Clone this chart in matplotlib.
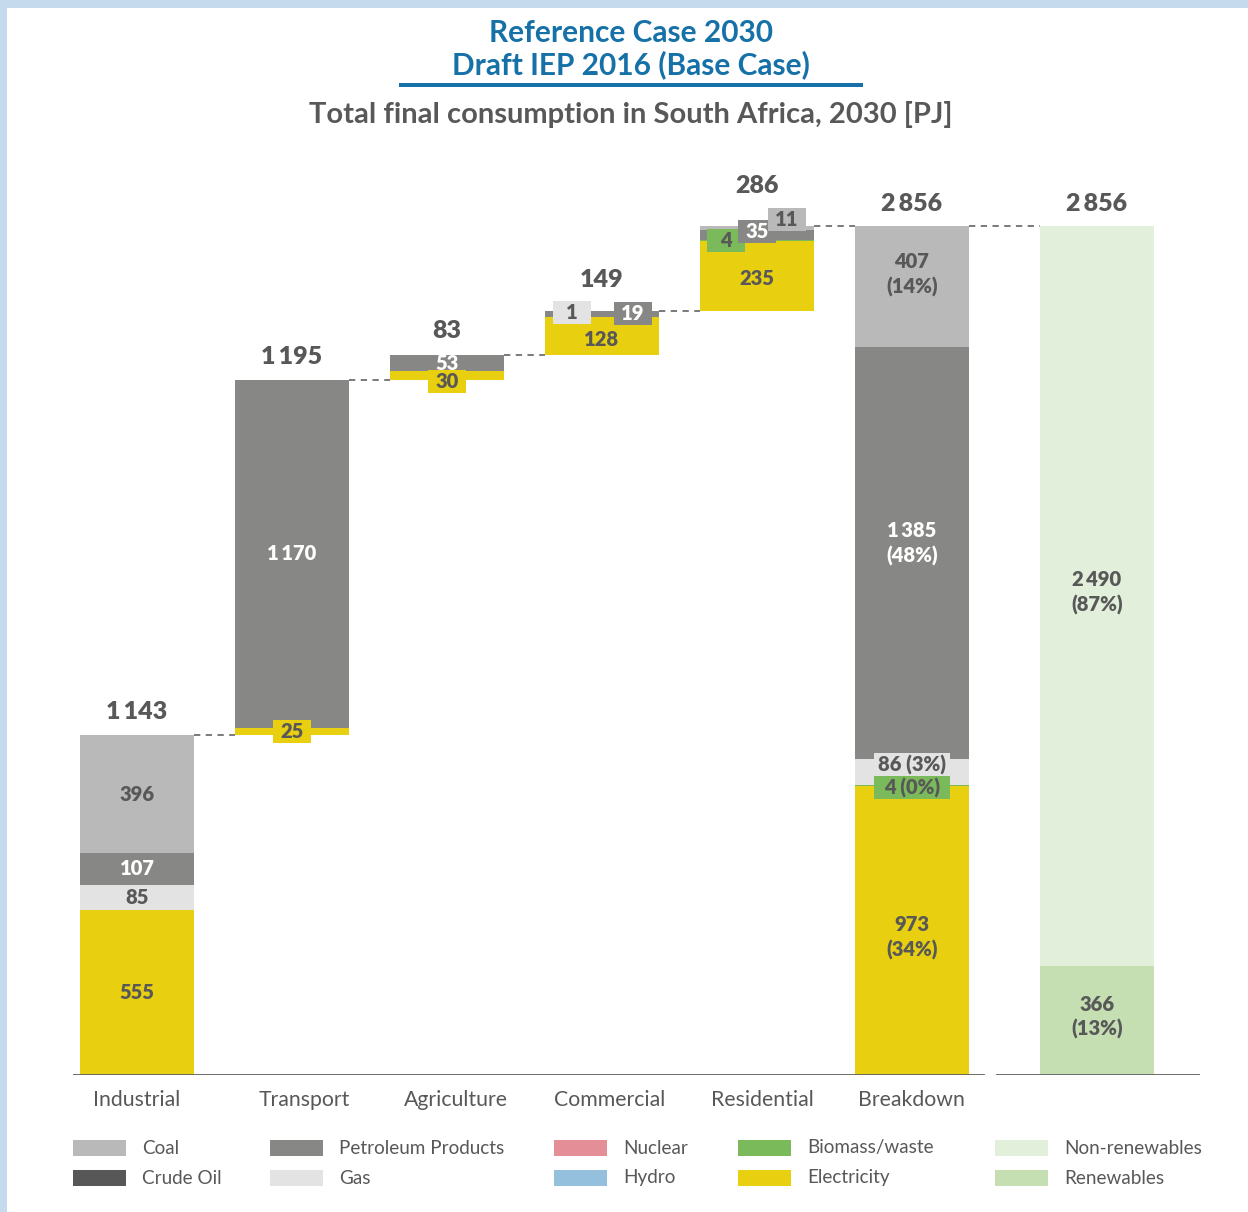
import matplotlib
matplotlib.use("Agg")
import matplotlib.pyplot as plt
from matplotlib.patches import Rectangle

# ---- data (PJ) ----
categories = ["Industrial", "Transport", "Agriculture", "Commercial", "Residential", "Breakdown"]
sector_totals = [1143, 1195, 83, 149, 286]
grand_total = 2856

electricity = [555, 25, 30, 128, 235, 973]
biomass = [0, 0, 0, 0, 4, 4]
gas = [85, 0, 0, 1, 0, 86]
petroleum = [107, 1170, 53, 19, 35, 1385]
coal = [396, 0, 0, 0, 11, 407]

breakdown_shares = {"electricity": 34, "biomass": 0, "gas": 3, "petroleum": 48, "coal": 14}
renewables = 366
non_renewables = 2490
renewable_shares = [13, 87]

legend_labels = [["Coal", "Crude Oil"], ["Petroleum Products", "Gas"], ["Nuclear", "Hydro"],
                 ["Biomass/waste", "Electricity"], ["Non-renewables", "Renewables"]]

# ---- styles ----
COLORS = {
    "Coal": "#b9b9b9", "Crude Oil": "#575757", "Petroleum Products": "#878785", "Gas": "#e3e3e3",
    "Nuclear": "#e48f98", "Hydro": "#94c0de", "Biomass/waste": "#7aba5a", "Electricity": "#e8cf0f",
    "Non-renewables": "#e2efdb", "Renewables": "#c5dfb2",
}
DARK = "#585858"
BLUE = "#1571a7"
FONT = ["Lato", "DejaVu Sans"]
plt.rcParams["font.family"] = FONT
NUM_WEIGHT = "heavy"

W, H = 1248, 1212
PX_PER_PJ = 849 / grand_total
YMAX = 3000

fig = plt.figure(figsize=(W / 100, H / 100), dpi=100)
fig.patch.set_facecolor("white")

# light blue frame on top and left edges
fig.patches.append(Rectangle((0, 1 - 8 / H), 1, 8 / H, transform=fig.transFigure,
                             facecolor="#c5daec", edgecolor="none"))
fig.patches.append(Rectangle((0, 0), 7 / W, 1, transform=fig.transFigure,
                             facecolor="#c5daec", edgecolor="none"))

# titles
fig.text(631 / W, 1 - 33 / H, "Reference Case 2030", ha="center", va="center",
         fontsize=21.5, fontweight="bold", color=BLUE)
fig.text(631 / W, 1 - 65 / H, "Draft IEP 2016 (Base Case)", ha="center", va="center",
         fontsize=21.5, fontweight="bold", color=BLUE)
fig.patches.append(Rectangle((399 / W, 1 - 87 / H), (863 - 399) / W, 4 / H,
                             transform=fig.transFigure, facecolor=BLUE, edgecolor="none"))
fig.text(631 / W, 1 - 114 / H, "Total final consumption in South Africa, 2030 [PJ]",
         ha="center", va="center", fontsize=21, fontweight="bold", color=DARK)

ax_h_px = YMAX * PX_PER_PJ
ax = fig.add_axes([73 / W, (H - 1075) / H, (1200 - 73) / W, ax_h_px / H])
ax.set_xlim(-64 / 155, (1200 - 137) / 155)
ax.set_ylim(0, YMAX)
ax.axis("off")

BAR_W = 114 / 155
x_pos = list(range(len(categories)))
x_last = 5 + 185 / 155


def px(v):
    """pixels -> data units on the y axis"""
    return v / PX_PER_PJ


def pxx(v):
    """pixels -> data units on the x axis"""
    return v / 155


def fmt(v):
    return f"{v:,}".replace(",", "\u2009")


# bases of the waterfall
bases = []
running = 0
for t in sector_totals:
    bases.append(running)
    running += t
bases.append(0)
tops = [b + t for b, t in zip(bases, sector_totals)] + [grand_total]

series = [("Electricity", electricity, "electricity"), ("Biomass/waste", biomass, "biomass"),
          ("Gas", gas, "gas"), ("Petroleum Products", petroleum, "petroleum"), ("Coal", coal, "coal")]

# boxed label placement: (category, fuel) -> (dx px, dy px, box width px)
boxed = {
    (1, "Electricity"): (0, 0, 38),
    (2, "Electricity"): (0, -5.5, 38),
    (3, "Gas"): (-30, 4.6, 38),
    (3, "Petroleum Products"): (31, 1, 38),
    (4, "Biomass/waste"): (-31, 0, 38),
    (4, "Petroleum Products"): (0, 2.8, 38),
    (4, "Coal"): (30, 8.4, 38),
    (5, "Biomass/waste"): (0, -2.8, 76),
    (5, "Gas"): (0, 6.8, 76),
}
plain_dy = {(5, "Electricity"): -7, (5, "Petroleum Products"): 10, (5, "Coal"): 12,
            (3, "Electricity"): -3, (4, "Electricity"): -2}
LABEL_FS = 14.5
BOX_H = 23

for i in x_pos:
    y0 = bases[i]
    for name, vals, key in series:
        v = vals[i]
        if v == 0:
            continue
        ax.bar(x_pos[i], v, bottom=y0, width=BAR_W, color=COLORS[name], linewidth=0)
        yc = y0 + v / 2
        txt = fmt(v)
        if i == 5:
            share = breakdown_shares[key]
            txt = f"{fmt(v)} ({share}%)" if (i, name) in boxed else f"{fmt(v)}\n({share}%)"
        tcolor = "white" if name == "Petroleum Products" else DARK
        if (i, name) in boxed:
            dx, dy, bw = boxed[(i, name)]
            cx = x_pos[i] + pxx(dx)
            cy = yc + px(dy)
            ax.add_patch(Rectangle((cx - pxx(bw) / 2, cy - px(BOX_H) / 2), pxx(bw), px(BOX_H),
                                   facecolor=COLORS[name], edgecolor="none", zorder=3))
            ax.text(cx, cy, txt, ha="center", va="center", fontsize=LABEL_FS, fontweight=NUM_WEIGHT,
                    color=tcolor, zorder=4)
        else:
            dy = plain_dy.get((i, name), 0)
            ax.text(x_pos[i], yc + px(dy), txt, ha="center", va="center", fontsize=LABEL_FS,
                    fontweight=NUM_WEIGHT, color=tcolor, linespacing=1.35, zorder=4)
        y0 += v

# renewables split bar
ax.bar(x_last, renewables, width=BAR_W, color=COLORS["Renewables"], linewidth=0)
ax.bar(x_last, non_renewables, bottom=renewables, width=BAR_W, color=COLORS["Non-renewables"], linewidth=0)
ax.text(x_last, renewables / 2 + px(3.6), f"{fmt(renewables)}\n({renewable_shares[0]}%)", ha="center",
        va="center", fontsize=LABEL_FS, fontweight=NUM_WEIGHT, color=DARK, linespacing=1.35)
ax.text(x_last, renewables + non_renewables / 2 + px(4), f"{fmt(non_renewables)}\n({renewable_shares[1]}%)",
        ha="center", va="center", fontsize=LABEL_FS, fontweight=NUM_WEIGHT, color=DARK, linespacing=1.35)

# totals above the bars
total_labels = sector_totals + [grand_total, renewables + non_renewables]
total_x = x_pos + [x_last]
total_tops = tops + [renewables + non_renewables]
total_gap = [23, 23, 24, 31, 40, 22, 22]
for x, t, top, g in zip(total_x, total_labels, total_tops, total_gap):
    ax.text(x, top + px(g), fmt(t), ha="center", va="center", fontsize=18, fontweight=NUM_WEIGHT,
            color=DARK, clip_on=False)

# dashed connectors
conn_x = x_pos + [x_last]
for k in range(len(conn_x) - 1):
    level = tops[k]
    ax.plot([conn_x[k] + BAR_W / 2, conn_x[k + 1] - BAR_W / 2], [level, level], color="#707070",
            linewidth=1.3, linestyle=(0, (3.5, 3)), zorder=2)

# baselines
ax.axhline(0, xmin=0, xmax=(983 - 73) / 1127, color="#606060", linewidth=2, zorder=5)
ax.axhline(0, xmin=(997 - 73) / 1127, xmax=1, color="#606060", linewidth=2, zorder=5)

# category labels
label_shift = [0, 12, 9, 8, 5, -1]
for x, c, s in zip(x_pos, categories, label_shift):
    ax.text(x + pxx(s), -px(25), c, ha="center", va="center", fontsize=15.3, color=DARK, clip_on=False)

# legend
col_x = [73, 270, 554, 738, 995]
row_y = [1148, 1178]
for cx, labels in zip(col_x, legend_labels):
    for ry, lab in zip(row_y, labels):
        fig.patches.append(Rectangle((cx / W, 1 - (ry + 8) / H), 53 / W, 16 / H,
                                     transform=fig.transFigure, facecolor=COLORS[lab], edgecolor="none"))
        fig.text((cx + 69) / W, 1 - ry / H, lab, ha="left", va="center", fontsize=13.6, color=DARK)

fig.savefig("out.png", dpi=100, facecolor="white")
